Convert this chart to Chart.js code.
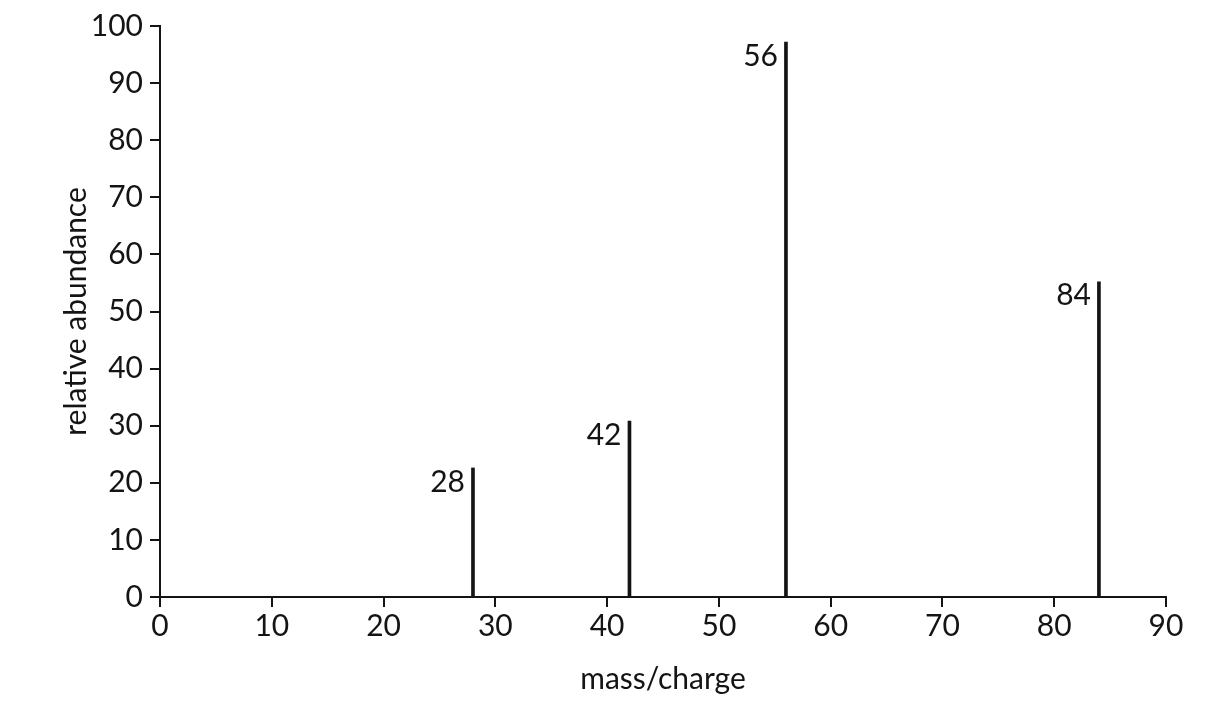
<!DOCTYPE html>
<html>
<head>
<meta charset="utf-8">
<script src="https://cdn.jsdelivr.net/npm/chart.js@4.4.1/dist/chart.umd.min.js"></script>
<style>
  html, body { margin: 0; padding: 0; background: #fff; }
  #wrap { width: 1229px; height: 705px; }
</style>
</head>
<body>
<div id="wrap"><canvas id="spectrum" width="1229" height="705"></canvas></div>
<script>
// mass spectrum data
const masses = [28, 42, 56, 84];
const abundance = [22.6, 30.8, 97.2, 55.2];
const peakLabels = ['28', '42', '56', '84'];
const xTicks = [0, 10, 20, 30, 40, 50, 60, 70, 80, 90];
const yTicks = [0, 10, 20, 30, 40, 50, 60, 70, 80, 90, 100];

const FONT = 'Lato, "Open Sans", sans-serif';
const INK = '#141414';

// peak labels, drawn to the left of each line top
const peakLabelPlugin = {
    id: 'peakLabels',
    afterDatasetsDraw(chart) {
        const ctx = chart.ctx;
        const meta = chart.getDatasetMeta(0);
        ctx.save();
        ctx.font = '30px ' + FONT;
        ctx.fillStyle = INK;
        ctx.textAlign = 'right';
        ctx.textBaseline = 'middle';
        meta.data.forEach((bar, i) => {
            ctx.fillText(peakLabels[i], bar.x - 8, bar.y + 14);
        });
        ctx.restore();
    }
};

const ctx = document.getElementById('spectrum').getContext('2d');
new Chart(ctx, {
    type: 'bar',
    data: {
        datasets: [{
            data: masses.map((m, i) => ({ x: m, y: abundance[i] })),
            backgroundColor: INK,
            borderWidth: 0,
            barThickness: 3
        }]
    },
    options: {
        responsive: false,
        animation: false,
        layout: { padding: { left: 54, right: 63, top: 26, bottom: 0 } },
        plugins: { legend: { display: false }, tooltip: { enabled: false } },
        scales: {
            x: {
                type: 'linear',
                min: 0,
                max: 90,
                offset: false,
                afterBuildTicks: axis => { axis.ticks = xTicks.map(v => ({ value: v })); },
                afterFit: axis => { axis.height = 108; },
                grid: { display: true, offset: false, drawOnChartArea: false, drawTicks: true, tickLength: 10, color: INK, lineWidth: 2 },
                border: { display: true, color: INK, width: 2 },
                ticks: { color: INK, font: { family: FONT, size: 30 }, padding: 1, maxRotation: 0 },
                title: { display: true, text: 'mass/charge', color: INK, font: { family: FONT, size: 30 }, padding: { top: 0, bottom: 8 } }
            },
            y: {
                min: 0,
                max: 100,
                afterBuildTicks: axis => { axis.ticks = yTicks.map(v => ({ value: v })); },
                afterFit: axis => { axis.width = 106; },
                grid: { display: true, drawOnChartArea: false, drawTicks: true, tickLength: 10, color: INK, lineWidth: 2 },
                border: { display: true, color: INK, width: 2 },
                ticks: { color: INK, font: { family: FONT, size: 30 }, padding: 7 },
                title: { display: true, text: 'relative abundance', color: INK, font: { family: FONT, size: 30 }, padding: { bottom: 4 } }
            }
        }
    },
    plugins: [peakLabelPlugin]
});
</script>
</body>
</html>
